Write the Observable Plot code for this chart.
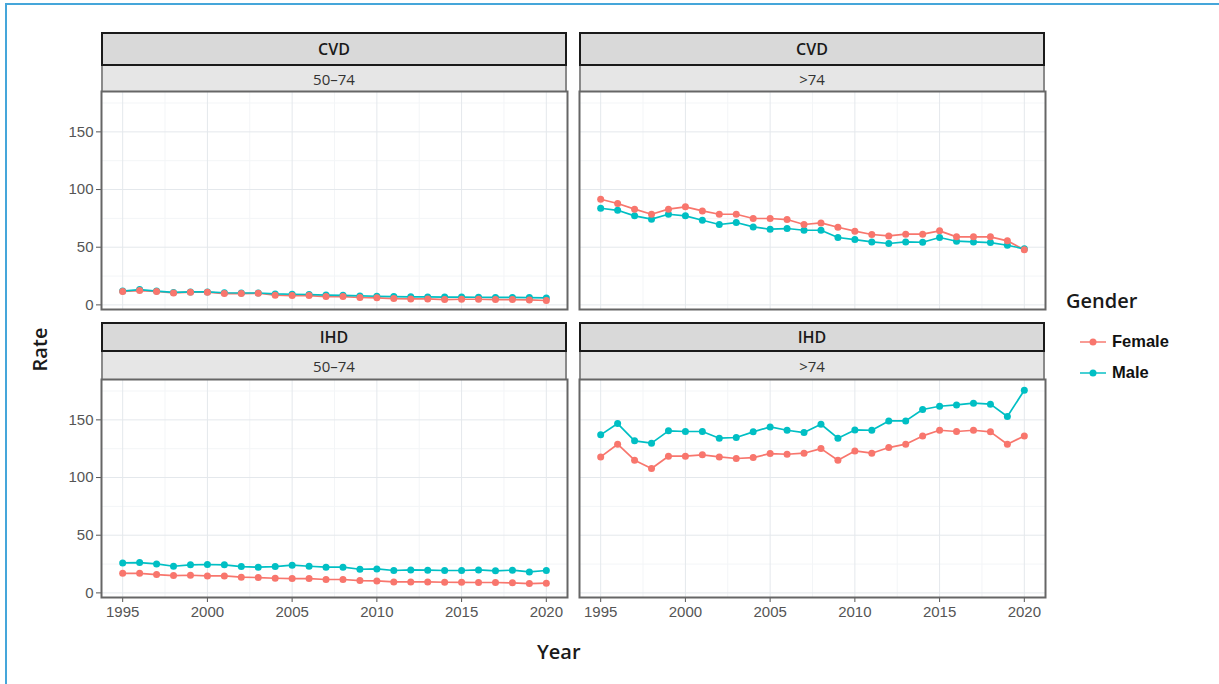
<!DOCTYPE html>
<html>
<head>
<meta charset="utf-8">
<script src="https://cdn.jsdelivr.net/npm/d3@7"></script>
<script src="https://cdn.jsdelivr.net/npm/@observablehq/plot@0.6"></script>
<style>
  html, body { margin: 0; padding: 0; background: #fff; width: 1219px; height: 684px; overflow: hidden; }
  #frame { position: absolute; left: 5px; top: 3px; width: 1400px; height: 900px; border-left: 2px solid #45a6da; border-top: 2px solid #45a6da; }
  .strip1 { position: absolute; box-sizing: border-box; height: 34px; width: 466px; background: #d9d9d9; border: 2px solid #1a1a1a;
            font: 600 16px "Open Sans", sans-serif; color: #1a1a1a; display: flex; align-items: center; justify-content: center; }
  .strip2 { position: absolute; box-sizing: border-box; height: 25px; width: 466px; background: #e6e6e6; border-left: 2px solid #8a8a8a; border-right: 2px solid #8a8a8a;
            font: 400 15px "Open Sans", sans-serif; color: #333; display: flex; align-items: center; justify-content: center; }
  .panel { position: absolute; }
  .panel svg { overflow: visible; max-width: none; }
  .title { position: absolute; font: 600 20px "Open Sans", sans-serif; color: #1a1a1a; }
  .legtext { position: absolute; font: 700 16.5px "Liberation Sans", Arial, sans-serif; color: #111; }
</style>
</head>
<body>
<div id="frame"></div>
<div id="root"></div>
<script>
// ---- data ----
const years = [1995,1996,1997,1998,1999,2000,2001,2002,2003,2004,2005,2006,2007,2008,2009,2010,2011,2012,2013,2014,2015,2016,2017,2018,2019,2020];
const genders = ["Female", "Male"];
const causes = ["CVD", "IHD"];
const ages = ["50–74", ">74"];
const yTicks = [0, 50, 100, 150];
const xTicks = [1995, 2000, 2005, 2010, 2015, 2020];

const cvdYoungFemale = [11.6,12.4,11.6,10.4,11.0,11.0,9.8,9.8,10.1,8.4,8.1,8.1,7.2,7.2,6.4,6.1,5.5,5.2,5.2,4.6,4.9,4.9,4.6,4.6,4.3,3.8];
const cvdYoungMale   = [12.0,13.3,12.0,10.8,11.2,11.2,10.5,10.3,10.3,9.5,9.2,9.0,8.5,8.3,7.8,7.5,7.2,7.0,6.9,6.8,6.8,6.6,6.5,6.5,6.3,6.0];
const cvdOldFemale   = [91.6,87.9,83.0,78.6,83.0,85.0,81.5,78.6,78.6,74.9,74.9,74.0,69.7,71.1,67.3,63.9,61.0,59.8,61.3,61.3,64.2,59.0,59.0,59.0,55.5,47.7];
const cvdOldMale     = [83.8,82.0,77.2,74.3,78.6,77.2,73.4,69.7,71.4,67.6,65.6,66.2,64.7,64.7,58.4,56.6,54.6,53.2,54.6,54.3,58.4,55.2,54.6,54.0,51.7,48.6];
const ihdYoungFemale = [17.0,17.0,15.9,15.0,15.3,14.7,14.7,13.6,13.3,12.7,12.4,12.4,11.6,11.6,10.7,10.4,9.5,9.5,9.5,9.2,9.2,9.0,9.0,8.7,8.1,8.4];
const ihdYoungMale   = [26.0,26.3,25.1,23.1,24.3,24.6,24.3,22.8,22.3,22.8,24.0,23.1,22.3,22.3,20.5,20.8,19.4,19.9,19.7,19.4,19.4,19.9,19.1,19.7,18.2,19.4];
const ihdOldFemale   = [117.9,128.9,115.0,107.8,118.5,118.5,119.7,117.9,116.5,117.3,120.8,120.2,121.1,125.1,115.0,123.1,121.1,126.0,128.9,136.1,141.0,139.9,141.0,139.6,128.9,136.1];
const ihdOldMale     = [137.0,146.8,131.8,129.8,140.5,139.9,139.9,134.1,134.7,139.6,143.9,141.0,139.0,146.2,134.1,141.3,141.0,149.1,149.1,159.0,161.8,163.0,164.5,163.6,152.9,175.7];

const colors = ["#F8766D", "#00BFC4"];

const seriesTable = [
  ["CVD", "50–74", "Female", cvdYoungFemale], ["CVD", "50–74", "Male", cvdYoungMale],
  ["CVD", ">74", "Female", cvdOldFemale],     ["CVD", ">74", "Male", cvdOldMale],
  ["IHD", "50–74", "Female", ihdYoungFemale], ["IHD", "50–74", "Male", ihdYoungMale],
  ["IHD", ">74", "Female", ihdOldFemale],     ["IHD", ">74", "Male", ihdOldMale]
];
const rows = seriesTable.flatMap(([cause, age, gender, vals]) =>
  vals.map((v, i) => ({cause, age, gender, year: years[i], rate: v})));

// ---- layout ----
const root = document.getElementById("root");
const colLeft = [101, 579];
const rowTop = [32, 322];
const stripH1 = [34, 30];
const stripH2 = [25, 27];
const panelW = 466, panelH = 218;
const yAxisW = 51, xAxisH = 34;

const xMinor = [1997.5, 2002.5, 2007.5, 2012.5, 2017.5];
const yMinor = [25, 75, 125, 175];

causes.forEach((cause, r) => {
  ages.forEach((age, c) => {
    const left = colLeft[c], top = rowTop[r];
    const s1 = document.createElement("div");
    s1.className = "strip1"; s1.textContent = cause;
    s1.style.left = left + "px"; s1.style.top = top + "px"; s1.style.height = stripH1[r] + "px";
    root.appendChild(s1);
    const s2 = document.createElement("div");
    s2.className = "strip2"; s2.textContent = age;
    s2.style.left = left + "px"; s2.style.top = (top + stripH1[r]) + "px"; s2.style.height = stripH2[r] + "px";
    root.appendChild(s2);

    const showY = c === 0, showX = r === 1;
    const data = rows.filter(d => d.cause === cause && d.age === age);
    const dotData = data.slice().reverse(); // Female dots drawn on top
    const chart = Plot.plot({
      width: panelW + (showY ? yAxisW : 0),
      height: panelH + (showX ? xAxisH : 0),
      marginLeft: showY ? yAxisW : 0,
      marginRight: 0,
      marginTop: 0,
      marginBottom: showX ? xAxisH : 0,
      style: {fontFamily: "'Liberation Sans', Arial, sans-serif", fontSize: "15px", color: "#555", background: "transparent", overflow: "visible"},
      x: {domain: [1993.75, 2021.25], axis: null},
      y: {domain: [-4, 185], axis: null},
      color: {domain: genders, range: colors},
      marks: [
        Plot.ruleX(xMinor, {stroke: "#f3f5f7", strokeWidth: 1}),
        Plot.ruleY(yMinor, {stroke: "#f3f5f7", strokeWidth: 1}),
        Plot.ruleX(xTicks, {stroke: "#e4e8ec", strokeWidth: 1}),
        Plot.ruleY(yTicks, {stroke: "#e4e8ec", strokeWidth: 1}),
        showX ? Plot.axisX({ticks: xTicks, tickFormat: d => String(d), label: null, tickSize: 5, tickPadding: 4, fontSize: 15, fill: "#555", stroke: "#555"}) : null,
        showY ? Plot.axisY({ticks: yTicks, label: null, tickSize: 5, tickPadding: 3, fontSize: 15, fill: "#555", stroke: "#555"}) : null,
        Plot.line(data, {x: "year", y: "rate", stroke: "gender", z: "gender", strokeWidth: 1.7}),
        Plot.dot(dotData, {x: "year", y: "rate", fill: "gender", r: 3.5, stroke: "none"}),
        Plot.frame({stroke: "#666", strokeWidth: 2})
      ]
    });
    const wrap = document.createElement("div");
    wrap.className = "panel";
    wrap.style.left = (left - (showY ? yAxisW : 0)) + "px";
    wrap.style.top = (top + stripH1[r] + stripH2[r]) + "px";
    wrap.appendChild(chart);
    root.appendChild(wrap);
  });
});

// axis titles
const rate = document.createElement("div");
rate.className = "title"; rate.textContent = "Rate";
rate.style.left = "18px"; rate.style.top = "336px"; rate.style.transform = "rotate(-90deg)";
root.appendChild(rate);
const year = document.createElement("div");
year.className = "title"; year.textContent = "Year";
year.style.left = "537px"; year.style.top = "638px";
root.appendChild(year);

// legend
const gtitle = document.createElement("div");
gtitle.className = "title"; gtitle.textContent = "Gender";
gtitle.style.left = "1066px"; gtitle.style.top = "287px";
root.appendChild(gtitle);
const legY = [342, 373];
genders.forEach((g, i) => {
  const ns = "http://www.w3.org/2000/svg";
  const svg = document.createElementNS(ns, "svg");
  svg.setAttribute("width", 30); svg.setAttribute("height", 14);
  svg.style.position = "absolute"; svg.style.left = "1078px"; svg.style.top = (legY[i] - 7) + "px";
  const ln = document.createElementNS(ns, "line");
  ln.setAttribute("x1", 2); ln.setAttribute("x2", 28); ln.setAttribute("y1", 7); ln.setAttribute("y2", 7);
  ln.setAttribute("stroke", colors[i]); ln.setAttribute("stroke-width", 1.8); ln.setAttribute("opacity", 0.8);
  const ci = document.createElementNS(ns, "circle");
  ci.setAttribute("cx", 15); ci.setAttribute("cy", 7); ci.setAttribute("r", 3.5); ci.setAttribute("fill", colors[i]);
  svg.appendChild(ln); svg.appendChild(ci);
  root.appendChild(svg);
  const t = document.createElement("div");
  t.className = "legtext"; t.textContent = g;
  t.style.left = "1112px"; t.style.top = (legY[i] - 10) + "px";
  root.appendChild(t);
});
</script>
</body>
</html>
